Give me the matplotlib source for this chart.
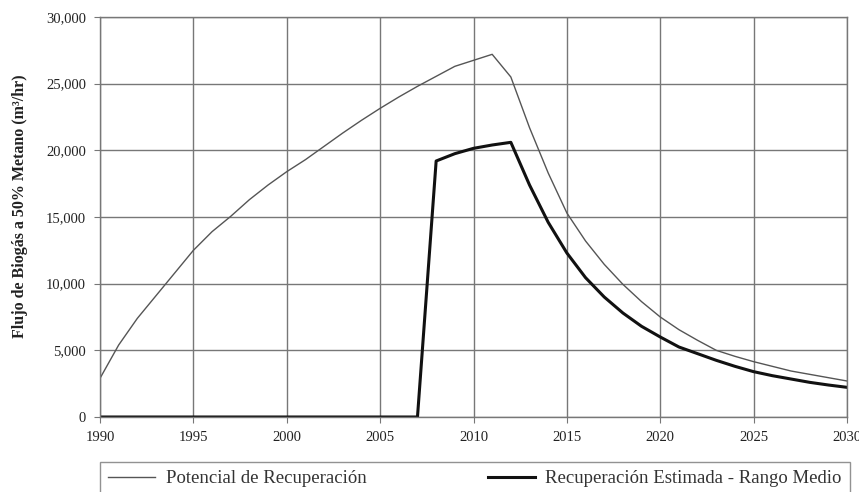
import numpy as np
import matplotlib
matplotlib.use("Agg")
import matplotlib.pyplot as plt
from matplotlib.ticker import FuncFormatter

# data
years = list(range(1990, 2031))
potencial = [2900, 5400, 7400, 9100, 10800, 12500, 13900, 15050, 16300, 17400,
             18400, 19300, 20300, 21300, 22250, 23150, 24000, 24800, 25550, 26300,
             26750, 27200, 25500, 21700, 18300, 15300, 13200, 11450, 9950, 8650,
             7500, 6550, 5750, 5000, 4550, 4150, 3800, 3450, 3200, 2950, 2700]
recuperacion = [0] * 18 + [19200, 19750, 20150, 20400, 20600, 17400, 14600, 12300,
                           10450, 9000, 7800, 6800, 6000, 5250, 4750, 4250, 3800,
                           3400, 3100, 2850, 2600, 2400, 2225]
label_pot = "Potencial de Recuperación"
label_rec = "Recuperación Estimada - Rango Medio"
ylabel = "Flujo de Biogás a 50% Metano (m³/hr)"

plt.rcParams['font.family'] = ['Liberation Serif', 'DejaVu Serif']

fig = plt.figure(figsize=(8.59, 4.92), dpi=100)
ax = fig.add_axes([100 / 859, 1 - 417 / 492, 747 / 859, 400 / 492])

ax.plot(years, potencial, color='#555555', lw=1.0, label=label_pot)
ax.plot(years, recuperacion, color='#111111', lw=2.2, label=label_rec)

ax.set_xlim(1990, 2030)
ax.set_ylim(0, 30000)
ax.set_xticks(range(1990, 2031, 5))
ax.set_yticks(range(0, 30001, 5000))
ax.yaxis.set_major_formatter(FuncFormatter(lambda v, p: f"{int(v):,}"))
ax.grid(True, color='#777777', lw=1.0)
ax.set_axisbelow(True)
for s in ax.spines.values():
    s.set_color('#777777')
    s.set_linewidth(1.0)
ax.tick_params(direction='out', length=4, color='#777777', labelsize=10.5,
               labelcolor='#222222', pad=6)
ax.set_ylabel(ylabel, fontsize=11.5, fontweight='bold', color='#222222')
ax.yaxis.set_label_coords(-0.097, 0.527)

# legend box below the axes, partly cut by the figure edge like the reference
leg = ax.legend(loc='upper left', bbox_to_anchor=(0, -0.112, 1.004, 0), mode='expand',
                ncol=2, frameon=True, fancybox=False, fontsize=13.5, handlelength=2.5,
                handletextpad=0.55, borderaxespad=0, borderpad=0.45)
leg.get_frame().set_edgecolor('#777777')
leg.get_frame().set_linewidth(1.0)
for t in leg.get_texts():
    t.set_color('#333333')

fig.savefig("out.png", dpi=100)
